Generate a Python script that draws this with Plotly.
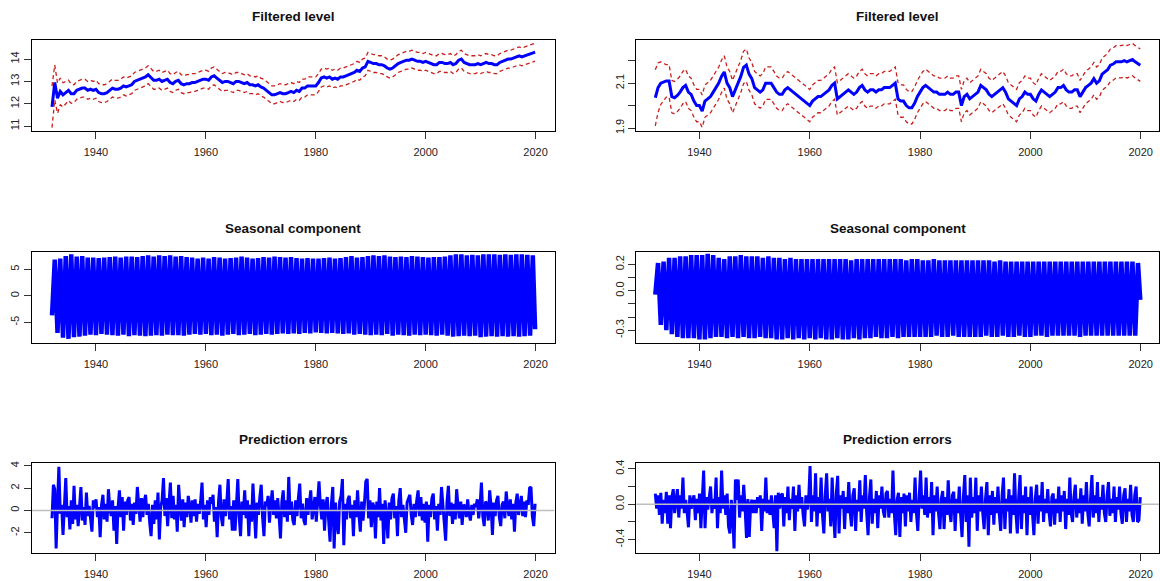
import numpy as np
import plotly.graph_objects as go

# ---------------------------------------------------------------
# Time stamps
# ---------------------------------------------------------------
years = list(range(1932, 2020))
# Jan / Jul of every year plus the final month (Dec 2019)
half_t = [y + m / 12 for y in years for m in (0, 6)] + [2019 + 11 / 12]
# four readings per year across the same span
quarter_t = list(np.linspace(1932, 2019 + 11 / 12, 4 * len(years)))

# ---------------------------------------------------------------
# Left column series
# ---------------------------------------------------------------
level_a = [
    11.86, 12.95, 12.25, 12.55, 12.40, 12.50, 12.60, 12.45, 12.45, 12.60,
    12.65, 12.70, 12.70, 12.60, 12.65, 12.60, 12.65, 12.50, 12.45, 12.45,
    12.50, 12.60, 12.70, 12.65, 12.65, 12.70, 12.80, 12.75, 12.80, 12.85,
    13.00, 13.05, 13.10, 13.15, 13.20, 13.30, 13.15, 13.05, 13.05, 13.10,
    13.00, 13.05, 13.10, 12.95, 12.90, 13.00, 13.05, 12.90, 12.85, 12.90,
    12.90, 12.95, 12.95, 13.00, 13.05, 13.10, 13.10, 13.05, 13.20, 13.25,
    13.15, 13.05, 12.95, 13.00, 13.00, 12.95, 12.90, 13.00, 13.00, 12.95,
    12.90, 12.95, 12.85, 12.85, 12.80, 12.85, 12.75, 12.70, 12.60, 12.50,
    12.40, 12.40, 12.45, 12.50, 12.45, 12.45, 12.50, 12.55, 12.50, 12.60,
    12.55, 12.70, 12.70, 12.80, 12.80, 12.80, 12.80, 12.95, 13.15, 13.20,
    13.15, 13.20, 13.10, 13.15, 13.10, 13.20, 13.20, 13.25, 13.30, 13.35,
    13.40, 13.50, 13.45, 13.60, 13.65, 13.90, 13.85, 13.80, 13.80, 13.75,
    13.75, 13.70, 13.60, 13.55, 13.60, 13.70, 13.80, 13.85, 13.90, 13.95,
    13.95, 14.00, 13.95, 13.90, 13.90, 13.85, 13.90, 13.85, 13.80, 13.75,
    13.75, 13.85, 13.85, 13.80, 13.80, 13.85, 13.75, 13.80, 13.95, 14.00,
    13.85, 13.80, 13.75, 13.75, 13.75, 13.80, 13.75, 13.80, 13.85, 13.80,
    13.80, 13.75, 13.75, 13.85, 13.90, 13.95, 14.00, 14.00, 14.05, 14.10,
    14.15, 14.10, 14.15, 14.20, 14.25, 14.28, 14.31,
]
# half-width of the confidence band (wide while the filter settles)
band_a = [0.93, 0.78, 0.68, 0.60, 0.54, 0.50, 0.46, 0.43] + [0.40] * 169

seasonal_a = [
    -3.7, 6.8, -7.0, 7.0, -7.9, 7.5, -8.1, 7.8, -7.8, 7.4,
    -7.7, 7.5, -7.5, 7.2, -7.3, 7.2, -7.4, 7.1, -7.2, 7.2,
    -7.3, 7.3, -7.4, 7.4, -7.5, 7.2, -7.3, 7.4, -7.6, 7.4,
    -7.4, 7.3, -7.5, 7.5, -7.6, 7.6, -7.5, 7.4, -7.4, 7.6,
    -7.5, 7.5, -7.3, 7.6, -7.4, 7.4, -7.4, 7.5, -7.5, 7.3,
    -7.3, 7.2, -7.2, 7.0, -7.3, 7.2, -7.2, 7.0, -7.4, 7.3,
    -7.3, 7.2, -7.5, 7.0, -7.3, 7.1, -7.2, 7.2, -7.4, 7.4,
    -7.3, 7.2, -7.2, 7.0, -7.4, 7.1, -7.3, 7.3, -7.2, 7.2,
    -7.3, 7.4, -7.2, 7.3, -7.1, 7.2, -7.2, 7.3, -7.1, 7.1,
    -7.2, 7.0, -7.0, 7.1, -7.1, 7.0, -6.9, 7.0, -7.0, 7.1,
    -7.1, 7.2, -7.0, 7.0, -7.1, 7.1, -7.2, 7.3, -7.1, 7.5,
    -7.3, 7.2, -7.2, 7.3, -7.3, 7.5, -7.4, 7.6, -7.3, 7.5,
    -7.4, 7.6, -7.2, 7.4, -7.5, 7.3, -7.3, 7.4, -7.4, 7.3,
    -7.5, 7.5, -7.3, 7.4, -7.4, 7.3, -7.3, 7.2, -7.4, 7.3,
    -7.5, 7.3, -7.3, 7.4, -7.5, 7.6, -7.7, 7.8, -7.6, 7.8,
    -7.5, 7.6, -7.6, 7.7, -7.5, 7.6, -7.8, 7.8, -7.7, 7.8,
    -7.6, 7.8, -7.7, 7.7, -7.6, 7.8, -7.7, 7.7, -7.6, 7.8,
    -7.7, 7.8, -7.6, 7.7, -7.5, 7.6, -6.3,
]

errors_a = [
    -0.7, 2.3, 1.9, -3.4,   0.6, 3.9, -0.3, 0.5,
    -2.2, 0.7, 2.9, -0.6,   0.4, -1.7, 0.9, -1.2,
    2.2, -0.8, 0.5, -1.4,   0.8, 2.1, -0.9, 0.3,
    -1.3, 1.6, -0.5, 0.4,   -0.7, -1.9, 0.9, 0.2,
    1.0, -0.6, 0.3, -2.4,   0.5, 1.4, -0.8, 0.6,
    -1.0, 1.9, 0.2, -0.5,   0.9, -1.8, 0.4, -3.0,
    0.3, 1.8, -0.6, 1.2,    -1.8, 0.8, -0.4, 0.9,
    1.2, -0.9, 0.6, -1.3,   0.7, -0.3, 2.1, 0.4,
    -1.0, 1.1, -0.6, 0.8,   1.4, -0.4, 0.6, -1.1,
    -2.3, 0.5, -1.2, 0.9,   -0.8, 1.6, -2.6, 0.3,
    0.9, 2.9, -0.5, 1.1,    -1.4, 0.6, 2.5, -0.7,
    1.3, -0.8, 0.5, -1.9,   2.3, 0.4, -0.9, 1.0,
    -1.5, 0.7, -0.6, 1.3,   0.4, -1.1, 0.9, -0.5,
    1.0, -1.0, 0.6, -0.3,   0.8, 2.5, -0.8, 0.5,
    -1.5, 0.9, -0.4, 1.2,   0.6, 1.4, -1.0, 0.3,
    -2.4, 0.8, 2.3, -0.6,   -1.4, 1.0, -0.5, 0.7,
    2.8, -0.8, 0.4, -1.8,   0.9, -1.8, 0.5, 2.8,
    -0.6, -2.3, 0.8, -0.4,  1.8, -0.7, 0.9, -2.3,
    0.5, -1.0, 2.4, 0.3,    -2.5, 0.7, -0.4, 1.2,
    2.3, -0.6, -2.3, 0.8,   0.4, 1.3, -1.1, 0.6,
    1.8, -0.4, 0.9, -0.7,   1.1, -0.5, -2.5, 0.8,
    1.8, -0.6, 0.9, -1.0,   3.0, -0.4, 0.8, -0.9,
    -1.3, 0.9, -0.5, 1.1,   2.4, -0.7, 0.6, -0.9,
    -1.3, 1.1, -0.4, 0.7,   1.8, -0.8, 0.5, 1.2,
    -1.0, 0.7, 2.6, 0.4,    -0.8, 1.0, -1.8, 0.5,
    1.2, -0.9, -2.8, 0.6,   2.1, -3.4, 0.7, -1.2,
    -2.1, 0.8, 1.3, 2.8,    -3.1, 0.6, -0.8, 1.0,
    1.3, -0.7, 0.5, -2.3,   0.9, -0.6, 1.8, -0.4,
    -1.9, 0.8, -0.9, 0.6,   2.6, 2.8, -0.7, 0.9,
    -1.5, 0.7, 0.3, -2.5,   0.8, -0.6, 2.0, -0.9,
    0.6, -3.0, 0.9, -0.5,   -2.5, 0.7, -0.8, 1.1,
    1.5, -0.7, 0.4, -2.3,   0.9, 2.0, -0.6, 0.5,
    -0.8, -2.0, 0.7, 1.0,   1.4, -0.4, -1.3, 0.6,
    -0.6, 0.9, 1.8, -0.5,   1.2, -0.9, 0.6, -1.1,
    0.8, -2.8, 0.5, -0.6,   1.1, 1.5, -0.8, 0.4,
    -1.8, 0.6, -0.4, 2.1,   0.5, -0.9, -2.7, 0.8,
    2.2, -0.5, 0.7, -1.2,   0.6, -0.8, 1.9, 0.3,
    -0.7, 0.8, -1.3, 0.5,   0.4, -0.6, 1.0, -0.3,
    -0.9, 0.5, -0.4, 0.6,   0.3, 1.0, -0.7, 0.4,
    2.5, -0.5, -1.4, 0.8,   0.6, -0.9, 1.8, 0.4,
    -2.2, 0.7, -0.5, 0.9,   1.3, -0.6, -1.4, 0.5,
    0.8, -0.7, 1.7, 0.3,    -0.5, 1.0, -0.8, 0.6,
    -1.9, 0.7, 1.5, -0.4,   0.6, 1.3, -0.5, 0.8,
    -0.6, 0.9, 0.5, 2.0,    2.1, -0.5, -1.4, 0.6,
]

# ---------------------------------------------------------------
# Right column series
# ---------------------------------------------------------------
level_b = [
    2.035, 2.080, 2.100, 2.105, 2.110, 2.110, 2.040, 2.035, 2.045, 2.060,
    2.080, 2.090, 2.060, 2.050, 2.020, 2.000, 2.000, 1.975, 2.020, 2.030,
    2.040, 2.060, 2.080, 2.100, 2.130, 2.150, 2.100, 2.080, 2.040, 2.070,
    2.100, 2.130, 2.170, 2.180, 2.140, 2.120, 2.080, 2.070, 2.060, 2.070,
    2.100, 2.100, 2.100, 2.080, 2.060, 2.050, 2.050, 2.070, 2.080, 2.070,
    2.060, 2.050, 2.040, 2.030, 2.020, 2.010, 2.000, 2.020, 2.030, 2.040,
    2.040, 2.050, 2.060, 2.070, 2.090, 2.100, 2.030, 2.040, 2.050, 2.060,
    2.070, 2.060, 2.050, 2.060, 2.080, 2.090, 2.070, 2.060, 2.070, 2.070,
    2.060, 2.070, 2.070, 2.080, 2.080, 2.080, 2.090, 2.100, 2.030, 2.020,
    2.020, 2.000, 1.990, 1.990, 2.010, 2.040, 2.060, 2.080, 2.090, 2.080,
    2.070, 2.060, 2.060, 2.050, 2.050, 2.050, 2.060, 2.050, 2.050, 2.060,
    2.060, 2.000, 2.040, 2.050, 2.030, 2.040, 2.050, 2.060, 2.090, 2.080,
    2.070, 2.050, 2.040, 2.050, 2.060, 2.070, 2.080, 2.060, 2.030, 2.020,
    2.010, 2.000, 2.030, 2.040, 2.060, 2.050, 2.050, 2.030, 2.020, 2.050,
    2.070, 2.060, 2.050, 2.040, 2.050, 2.060, 2.080, 2.080, 2.090, 2.070,
    2.060, 2.060, 2.070, 2.070, 2.040, 2.060, 2.080, 2.090, 2.100, 2.120,
    2.100, 2.110, 2.140, 2.150, 2.160, 2.180, 2.185, 2.195, 2.195, 2.195,
    2.200, 2.195, 2.200, 2.205, 2.195, 2.185, 2.180,
]
band_b = [0.125, 0.11, 0.095, 0.085] + [0.072] * 173

seasonal_b = [
    -0.03, 0.21, -0.26, 0.22, -0.30, 0.25, -0.33, 0.25, -0.35, 0.26,
    -0.36, 0.26, -0.36, 0.27, -0.36, 0.27, -0.37, 0.27, -0.37, 0.28,
    -0.36, 0.27, -0.35, 0.25, -0.35, 0.24, -0.36, 0.26, -0.35, 0.26,
    -0.36, 0.27, -0.35, 0.26, -0.36, 0.26, -0.36, 0.26, -0.35, 0.25,
    -0.36, 0.26, -0.36, 0.25, -0.37, 0.25, -0.37, 0.24, -0.36, 0.25,
    -0.37, 0.24, -0.36, 0.24, -0.37, 0.24, -0.36, 0.24, -0.37, 0.24,
    -0.36, 0.24, -0.37, 0.24, -0.37, 0.24, -0.36, 0.24, -0.37, 0.24,
    -0.37, 0.23, -0.36, 0.24, -0.37, 0.24, -0.36, 0.24, -0.36, 0.24,
    -0.35, 0.24, -0.36, 0.24, -0.36, 0.24, -0.35, 0.24, -0.36, 0.24,
    -0.35, 0.23, -0.35, 0.24, -0.35, 0.24, -0.35, 0.23, -0.35, 0.23,
    -0.35, 0.24, -0.34, 0.23, -0.35, 0.23, -0.35, 0.23, -0.34, 0.23,
    -0.35, 0.23, -0.35, 0.23, -0.35, 0.23, -0.35, 0.23, -0.35, 0.23,
    -0.34, 0.23, -0.35, 0.22, -0.35, 0.23, -0.34, 0.22, -0.35, 0.22,
    -0.35, 0.22, -0.34, 0.22, -0.35, 0.22, -0.35, 0.22, -0.34, 0.22,
    -0.34, 0.22, -0.35, 0.22, -0.34, 0.22, -0.34, 0.22, -0.34, 0.22,
    -0.34, 0.22, -0.34, 0.22, -0.35, 0.22, -0.34, 0.22, -0.34, 0.22,
    -0.34, 0.22, -0.34, 0.22, -0.34, 0.22, -0.34, 0.22, -0.34, 0.22,
    -0.34, 0.22, -0.34, 0.22, -0.34, 0.21, -0.07,
]

errors_b = [
    0.12, -0.05, 0.10, -0.12,   0.13, -0.22, 0.05, -0.10,
    0.14, -0.22, 0.10, -0.27,   0.08, 0.17, -0.10, 0.02,
    0.17, -0.15, 0.10, -0.05,   0.30, -0.10, 0.05, -0.08,
    -0.26, 0.10, -0.05, 0.04,   0.10, -0.18, 0.06, -0.10,
    0.12, -0.27, 0.05, 0.38,    -0.27, 0.08, -0.06, 0.10,
    0.20, -0.10, 0.06, -0.05,   0.30, -0.27, 0.08, -0.10,
    0.38, -0.05, 0.10, -0.12,   0.12, -0.25, -0.33, 0.05,
    -0.10, -0.50, 0.28, 0.05,   0.28, -0.15, 0.10, -0.08,
    0.22, -0.05, -0.38, 0.06,   -0.37, 0.00, 0.05, -0.10,
    0.05, -0.10, 0.08, -0.04,   0.10, -0.30, 0.06, -0.08,
    0.30, -0.10, 0.05, -0.12,   0.10, -0.08, -0.27, 0.10,
    -0.53, 0.13, -0.05, 0.10,   0.12, -0.25, 0.08, -0.10,
    0.20, -0.18, 0.06, -0.05,   0.20, -0.30, 0.10, -0.08,
    0.22, -0.05, 0.08, -0.12,   -0.25, 0.10, -0.06, 0.05,
    0.43, -0.20, 0.10, -0.08,   0.35, -0.25, 0.08, -0.10,
    0.30, -0.12, -0.33, 0.10,   0.35, -0.08, 0.06, -0.25,
    0.30, -0.10, -0.38, 0.12,   0.32, -0.33, 0.10, -0.05,
    0.15, -0.28, 0.08, -0.10,   0.25, -0.08, -0.25, 0.10,
    0.18, -0.30, 0.05, -0.08,   0.27, -0.20, 0.10, -0.05,
    0.33, -0.10, -0.35, 0.08,   0.28, -0.22, 0.06, -0.10,
    0.15, -0.27, 0.10, -0.05,   0.20, -0.08, -0.15, 0.12,
    0.15, -0.15, 0.06, -0.10,   0.38, -0.10, -0.35, 0.05,
    0.13, -0.37, 0.08, -0.10,   0.12, -0.25, 0.10, -0.08,
    0.13, -0.20, 0.05, -0.10,   0.30, -0.10, -0.30, 0.08,
    0.38, -0.05, 0.10, -0.12,   0.30, -0.15, 0.08, -0.10,
    0.25, -0.35, 0.10, -0.08,   0.20, -0.10, -0.28, 0.06,
    0.15, -0.28, 0.08, -0.12,   0.27, -0.08, -0.20, 0.10,
    0.14, -0.30, 0.06, -0.10,   0.20, -0.12, -0.37, 0.08,
    0.33, -0.20, 0.10, -0.48,   0.30, -0.15, 0.08, -0.10,
    0.30, -0.30, 0.10, -0.08,   0.20, -0.10, -0.28, 0.06,
    0.25, -0.35, 0.10, -0.12,   0.15, -0.23, 0.08, -0.10,
    0.20, -0.12, -0.30, 0.10,   0.30, -0.28, 0.06, -0.08,
    0.17, -0.33, 0.10, -0.12,   0.35, -0.10, -0.33, 0.08,
    0.33, -0.28, 0.10, -0.10,   0.20, -0.35, 0.08, -0.12,
    0.20, -0.10, -0.35, 0.06,   0.22, -0.22, 0.10, -0.08,
    0.25, -0.20, 0.06, -0.10,   0.17, -0.10, -0.25, 0.08,
    0.12, -0.23, 0.06, -0.10,   0.20, -0.20, 0.10, -0.08,
    0.15, -0.28, 0.06, -0.12,   0.30, -0.10, -0.20, 0.08,
    0.22, -0.15, 0.06, -0.10,   0.18, -0.22, 0.10, -0.08,
    0.25, -0.10, -0.25, 0.06,   0.33, -0.15, 0.10, -0.10,
    0.25, -0.20, 0.08, -0.06,   0.22, -0.10, -0.20, 0.10,
    0.25, -0.13, 0.06, -0.10,   0.20, -0.20, 0.08, -0.06,
    0.20, -0.10, -0.22, 0.10,   0.18, -0.20, 0.06, -0.08,
    0.22, -0.12, -0.20, 0.10,   0.20, -0.20, -0.18, 0.08,
]

# ---------------------------------------------------------------
# Styling
# ---------------------------------------------------------------
BLUE = "#0000FF"
RED = "#C8201E"
FONT = "Liberation Sans, Arial, sans-serif"
W, H = 1160, 581

col_x = [(31.7, 555.0), (636.7, 1160.0)]
row_y = [(37.3, 129.3), (251.7, 343.7), (464.3, 556.0)]
title_y = [14.0, 227.8, 441.5]
title_cx = [293.3, 898.7]
x_ranges = [[1928.3, 2023.45], [1928.53, 2023.31]]

titles = ["Filtered level", "Seasonal component", "Prediction errors"]

y_specs = {
    (0, 0): dict(range=[10.78, 14.86], vals=[11, 12, 13, 14], text=["11", "12", "13", "14"]),
    (0, 1): dict(range=[1.887, 2.2925], vals=[1.9, 2.0, 2.1, 2.2], text=["1.9", "", "2.1", ""]),
    (1, 0): dict(range=[-8.92, 8.23], vals=[-5, 0, 5], text=["-5", "0", "5"]),
    (1, 1): dict(range=[-0.3975, 0.2925], vals=[-0.3, -0.2, -0.1, 0.0, 0.1, 0.2],
                 text=["-0.3", "", "", "0.0", "", "0.2"]),
    (2, 0): dict(range=[-3.83, 4.29], vals=[-2, 0, 2, 4], text=["-2", "0", "2", "4"]),
    (2, 1): dict(range=[-0.553, 0.471], vals=[-0.4, -0.2, 0.0, 0.2, 0.4],
                 text=["-0.4", "", "0.0", "", "0.4"]),
}

fig = go.Figure()
layout = dict(
    width=W, height=H,
    margin=dict(l=0, r=0, t=0, b=0),
    paper_bgcolor="white", plot_bgcolor="white",
    showlegend=False,
    font=dict(family=FONT, color="#222"),
    annotations=[],
)

axis_common = dict(
    showgrid=False, zeroline=False,
    showline=True, mirror=True, linecolor="black", linewidth=1,
    ticks="outside", ticklen=7, tickwidth=1, tickcolor="#333",
    tickfont=dict(family=FONT, size=11, color="#222"),
)

panels = {}
idx = 0
for r in range(3):
    for c in range(2):
        idx += 1
        xa = "x" if idx == 1 else f"x{idx}"
        ya = "y" if idx == 1 else f"y{idx}"
        x0, x1 = col_x[c]
        y0, y1 = row_y[r]
        spec = y_specs[(r, c)]
        layout["xaxis" if idx == 1 else f"xaxis{idx}"] = dict(
            axis_common,
            domain=[x0 / W, min(x1 / W, 1.0)],
            range=x_ranges[c],
            tickvals=[1940, 1960, 1980, 2000, 2020],
            ticktext=["1940", "1960", "1980", "2000", "2020"],
            anchor=ya,
            ticklabelstandoff=4,
        )
        layout["yaxis" if idx == 1 else f"yaxis{idx}"] = dict(
            axis_common,
            domain=[1 - y1 / H, 1 - y0 / H],
            range=spec["range"],
            tickvals=spec["vals"],
            ticktext=spec["text"],
            tickangle=-90,
            anchor=xa,
        )
        layout["annotations"].append(dict(
            text=f"<b>{titles[r]}</b>",
            x=title_cx[c] / W, y=1 - title_y[r] / H,
            xref="paper", yref="paper",
            xanchor="center", yanchor="middle",
            showarrow=False,
            font=dict(family=FONT, size=13.5, color="#111"),
        ))
        panels[(r, c)] = (xa, ya)

# Filtered level with confidence bands
for c, (lvl, band) in enumerate([(level_a, band_a), (level_b, band_b)]):
    xa, ya = panels[(0, c)]
    lvl_arr = np.array(lvl)
    bw = np.array(band)
    for bound in (lvl_arr + bw, lvl_arr - bw):
        fig.add_trace(go.Scatter(
            x=half_t, y=bound, mode="lines", xaxis=xa, yaxis=ya,
            line=dict(color=RED, width=1.3, dash="4px,3px"),
            hoverinfo="skip",
        ))
    fig.add_trace(go.Scatter(
        x=half_t, y=lvl, mode="lines", xaxis=xa, yaxis=ya,
        line=dict(color=BLUE, width=3),
    ))

# Seasonal component
for c, seas in enumerate([seasonal_a, seasonal_b]):
    xa, ya = panels[(1, c)]
    fig.add_trace(go.Scatter(
        x=half_t, y=seas, mode="lines", xaxis=xa, yaxis=ya,
        line=dict(color=BLUE, width=4.5),
    ))

# Prediction errors with a zero reference line
for c, err in enumerate([errors_a, errors_b]):
    xa, ya = panels[(2, c)]
    fig.add_trace(go.Scatter(
        x=quarter_t, y=err, mode="lines", xaxis=xa, yaxis=ya,
        line=dict(color=BLUE, width=3),
    ))
    fig.add_trace(go.Scatter(
        x=x_ranges[c], y=[0, 0], mode="lines", xaxis=xa, yaxis=ya,
        line=dict(color="#BEBEBE", width=1.5),
        hoverinfo="skip",
    ))

fig.update_layout(**layout)
fig.write_html("out.html")
